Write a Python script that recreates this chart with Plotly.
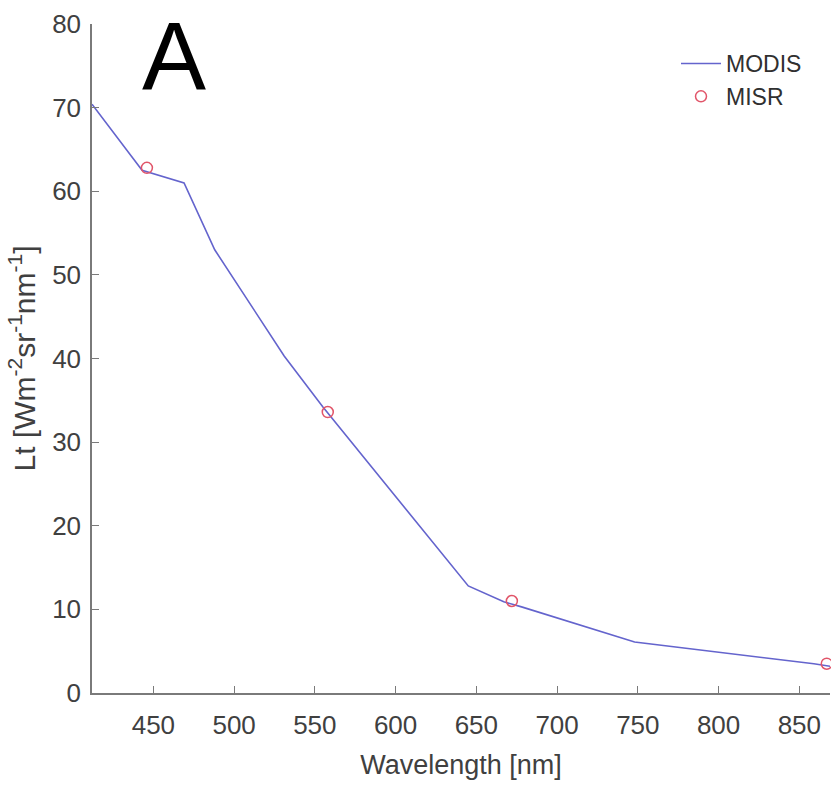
import plotly.graph_objects as go

# MODIS spectrum
modis_wl = [412, 443, 469, 488, 531, 547, 555, 645, 667, 678, 748, 859, 869]
modis_lt = [70.4, 62.5, 61.0, 53.0, 40.3, 36.2, 34.2, 12.8, 10.9, 10.3, 6.1, 3.5, 3.2]

# MISR bands
misr_wl = [446, 558, 672, 867]
misr_lt = [62.8, 33.6, 11.0, 3.5]

x_ticks = [450, 500, 550, 600, 650, 700, 750, 800, 850]
y_ticks = [0, 10, 20, 30, 40, 50, 60, 70, 80]

FONT = "Liberation Sans, Arial, sans-serif"
AXC = "#7a7a7a"

W, H = 831, 785
L, R, T, B = 92, 1, 24, 92

fig = go.Figure()
fig.add_trace(go.Scatter(
    x=modis_wl, y=modis_lt, mode="lines", name="MODIS",
    line=dict(color="rgb(100,100,205)", width=1.6), cliponaxis=False))
fig.add_trace(go.Scatter(
    x=misr_wl, y=misr_lt, mode="markers", name="MISR",
    marker=dict(symbol="circle-open", size=11, color="rgb(225,85,105)",
                line=dict(width=1.5, color="rgb(225,85,105)")),
    cliponaxis=False))

pw, ph = W - L - R, H - T - B

fig.update_layout(
    width=W, height=H,
    margin=dict(l=L, r=R, t=T, b=B, autoexpand=False),
    paper_bgcolor="white", plot_bgcolor="white",
    font=dict(family=FONT, color="#404040"),
    showlegend=True,
    legend=dict(x=(676 - L) / pw, y=1 - (42 - T) / ph, xanchor="left", yanchor="top",
                font=dict(size=23, color="#303030"),
                bgcolor="rgba(0,0,0,0)", tracegroupgap=0, itemwidth=40),
    annotations=[dict(text="A", x=(174 - L) / pw, y=1 - (56 - T) / ph,
                      xref="paper", yref="paper",
                      showarrow=False, font=dict(size=96, color="black", family=FONT),
                      xanchor="center", yanchor="middle")],
)

fig.update_xaxes(
    range=[412, 869], tickvals=x_ticks, ticktext=[str(v) for v in x_ticks],
    showline=True, linecolor=AXC, linewidth=1.5, mirror=False,
    ticks="inside", ticklen=7, tickwidth=1.3, tickcolor=AXC,
    showgrid=False, zeroline=False, automargin=False,
    tickfont=dict(size=26, color="#404040"), ticklabelstandoff=8,
    title=dict(text="Wavelength [nm]", font=dict(size=27, color="#404040"), standoff=16),
)
fig.update_yaxes(
    range=[0, 80], tickvals=y_ticks, ticktext=[str(v) for v in y_ticks],
    showline=True, linecolor=AXC, linewidth=1.5, mirror=False,
    ticks="inside", ticklen=7, tickwidth=1.3, tickcolor=AXC,
    showgrid=False, zeroline=False, automargin=False,
    tickfont=dict(size=26, color="#404040"), ticklabelstandoff=4,
    title=dict(text="Lt [Wm<sup>-2</sup>sr<sup>-1</sup>nm<sup>-1</sup>]",
               font=dict(size=30, color="#404040"), standoff=8),
)

fig.write_html(
    "out.html",
    config={"displayModeBar": False},
    post_script="document.body.style.margin='0';document.body.style.overflow='hidden';",
)
